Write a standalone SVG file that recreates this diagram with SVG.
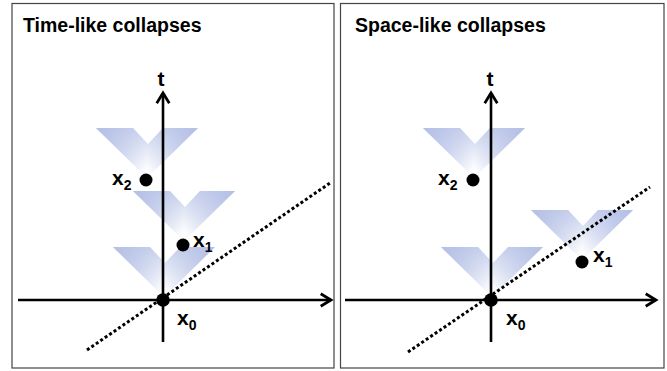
<svg xmlns="http://www.w3.org/2000/svg" width="667" height="371" viewBox="0 0 667 371">
<style>
.frame{fill:#ffffff;stroke:#444444;stroke-width:1.2}
.title{font-family:"Liberation Sans",Arial,sans-serif;font-weight:bold;font-size:19.5px;fill:#000}
.lbl{font-family:"Liberation Sans",Arial,sans-serif;font-weight:bold;font-size:21px;fill:#000}
.sub{font-size:14px}
.axis{stroke:#000;stroke-width:2.6;fill:none}
.dotted{stroke:#000;stroke-width:3;stroke-dasharray:3 2.4;fill:none}
.ev{fill:#000}
.cone{fill:url(#coneGradH)}
.coneV{fill:url(#coneGradV)}
</style>
<defs>
<linearGradient id="coneGradH" x1="0" y1="0" x2="1" y2="0">
<stop offset="0" stop-color="#b3bfe5"/>
<stop offset="0.5" stop-color="#ffffff"/>
<stop offset="1" stop-color="#b3bfe5"/>
</linearGradient>
<linearGradient id="coneGradV" x1="0" y1="0" x2="0" y2="1">
<stop offset="0" stop-color="#b3bfe5" stop-opacity="0.7"/>
<stop offset="0.85" stop-color="#b3bfe5" stop-opacity="0"/>
</linearGradient>
<path id="conePath" d="M-51,-50 L-14,-50 L1,-34 L16,-50 L51,-50 L0,0 Z"/>
<marker id="arr" markerUnits="userSpaceOnUse" markerWidth="16" markerHeight="16" viewBox="-10 -7 12 14" refX="0" refY="0" orient="auto">
<path d="M-9,-5.5 L0,0 L-9,5.5" fill="none" stroke="#000" stroke-width="2.4" stroke-linejoin="miter"/>
</marker>
</defs>

<g id="panel-left">
<rect class="frame" x="12" y="3.5" width="322" height="364.5"/>
<text class="title" x="23" y="32">Time-like collapses</text>
</g>
<g id="panel-right">
<rect class="frame" x="340.5" y="3.5" width="323.5" height="364.5"/>
<text class="title" x="355" y="32">Space-like collapses</text>
</g>

<g id="cones">
<g transform="translate(147,178)"><use href="#conePath" class="cone"/><use href="#conePath" class="coneV"/></g>
<g transform="translate(184,241)"><use href="#conePath" class="cone"/><use href="#conePath" class="coneV"/></g>
<g transform="translate(164,297)"><use href="#conePath" class="cone"/><use href="#conePath" class="coneV"/></g>
<g transform="translate(474,178)"><use href="#conePath" class="cone"/><use href="#conePath" class="coneV"/></g>
<g transform="translate(582,260)"><use href="#conePath" class="cone"/><use href="#conePath" class="coneV"/></g>
<g transform="translate(492,297)"><use href="#conePath" class="cone"/><use href="#conePath" class="coneV"/></g>
</g>

<g id="connectors">
<line class="axis" x1="163" y1="342" x2="163" y2="93" marker-end="url(#arr)"/>
<line class="axis" x1="18" y1="300" x2="331" y2="300" marker-end="url(#arr)"/>
<line class="dotted" x1="87" y1="350" x2="330" y2="183"/>
<line class="axis" x1="491" y1="342" x2="491" y2="93" marker-end="url(#arr)"/>
<line class="axis" x1="345" y1="300" x2="656" y2="300" marker-end="url(#arr)"/>
<line class="dotted" x1="408" y1="352" x2="650" y2="187"/>
</g>

<g id="axis-t-left"><text class="lbl" x="161" y="86" text-anchor="middle" font-size="18">t</text></g>
<g id="axis-t-right"><text class="lbl" x="490" y="86" text-anchor="middle" font-size="18">t</text></g>

<g id="left-x0"><circle class="ev" cx="163" cy="300" r="6.8"/><text class="lbl" x="177" y="325">x<tspan class="sub" dy="5">0</tspan></text></g>
<g id="left-x1"><circle class="ev" cx="183" cy="245" r="6.5"/><text class="lbl" x="193" y="247">x<tspan class="sub" dy="5">1</tspan></text></g>
<g id="left-x2"><circle class="ev" cx="146" cy="180" r="6.5"/><text class="lbl" x="112" y="185">x<tspan class="sub" dy="5">2</tspan></text></g>

<g id="right-x0"><circle class="ev" cx="491" cy="300" r="6.8"/><text class="lbl" x="506" y="325">x<tspan class="sub" dy="5">0</tspan></text></g>
<g id="right-x1"><circle class="ev" cx="582" cy="262" r="6.5"/><text class="lbl" x="593" y="262">x<tspan class="sub" dy="5">1</tspan></text></g>
<g id="right-x2"><circle class="ev" cx="473" cy="180" r="6.5"/><text class="lbl" x="438" y="185">x<tspan class="sub" dy="5">2</tspan></text></g>
</svg>
